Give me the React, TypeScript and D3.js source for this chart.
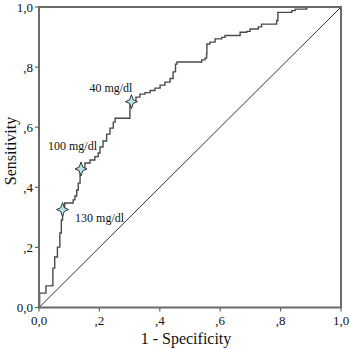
import React from "react";
import * as d3 from "d3";

// ROC curve (1 - specificity, sensitivity)
const fpr = [0, 0.002, 0.02, 0.023, 0.043, 0.046, 0.052, 0.061, 0.069, 0.074, 0.078, 0.085, 0.096, 0.113, 0.119, 0.125, 0.13, 0.136, 0.139,
  0.152, 0.169, 0.185, 0.196, 0.202, 0.212, 0.224, 0.235, 0.246, 0.252, 0.3, 0.301, 0.306,
  0.321, 0.334, 0.351, 0.368, 0.384, 0.401, 0.417, 0.434, 0.444, 0.452, 0.457, 0.533, 0.539, 0.55, 0.555, 0.556, 0.566, 0.583, 0.605, 0.616, 0.655, 0.666, 0.688, 0.699, 0.726, 0.737, 0.787, 0.791, 0.837, 0.848, 0.886, 0.887, 1];
const tpr = [0, 0.048, 0.048, 0.072, 0.073, 0.131, 0.168, 0.201, 0.248, 0.291, 0.326, 0.348, 0.348, 0.358, 0.371, 0.391, 0.414, 0.448, 0.461,
  0.481, 0.491, 0.502, 0.514, 0.534, 0.554, 0.577, 0.597, 0.617, 0.63, 0.63, 0.674, 0.685,
  0.7, 0.71, 0.715, 0.722, 0.73, 0.74, 0.75, 0.762, 0.784, 0.81, 0.817, 0.817, 0.824, 0.83, 0.844, 0.877, 0.883, 0.894, 0.899, 0.905, 0.905, 0.916, 0.919, 0.927, 0.934, 0.943, 0.955, 0.982, 0.988, 0.993, 0.996, 1, 1];

const cutLabels = ["40 mg/dl", "100 mg/dl", "130 mg/dl"];
const cutX = [0.306, 0.139, 0.078];
const cutY = [0.685, 0.461, 0.326];

const tickValues = [0, 0.2, 0.4, 0.6, 0.8, 1.0];
const tickLabels = ["0,0", ",2", ",4", ",6", ",8", "1,0"];

const W = 350, H = 349;
const L = 39, R = 341, T = 7, B = 307.5;
const FONT = "'Liberation Serif', 'Times New Roman', serif";

function starPath(cx: number, cy: number, rx: number, ry: number, ri: number) {
  const pts: [number, number][] = [
    [cx, cy - ry], [cx + ri, cy - ri], [cx + rx, cy], [cx + ri, cy + ri],
    [cx, cy + ry], [cx - ri, cy + ri], [cx - rx, cy], [cx - ri, cy - ri],
  ];
  return "M" + pts.map((p) => p.join(",")).join("L") + "Z";
}

export default function App() {
  const x = d3.scaleLinear().domain([0, 1]).range([L, R]);
  const y = d3.scaleLinear().domain([0, 1]).range([B, T]);
  const pts: [number, number][] = fpr.map((v, i) => [v, tpr[i]]);
  const line = d3.line<[number, number]>().x((d) => x(d[0])).y((d) => y(d[1])).curve(d3.curveStepAfter);
  const labelPos = [
    { dx: -42, dy: -10 },
    { dx: -33, dy: -19 },
    { dx: 12.5, dy: 12.5 },
  ];
  return (
    <svg width={W} height={H} style={{ position: "absolute", left: 0, top: 0, background: "#fff" }} fontFamily={FONT}>
      <rect x={0} y={0} width={W} height={H} fill="#fff" />
      {/* diagonal */}
      <line x1={x(0)} y1={y(0)} x2={x(1)} y2={y(1)} stroke="#333" strokeWidth={1} />
      {/* ROC curve */}
      <path d={line(pts) || ""} fill="none" stroke="#4a4a4a" strokeWidth={1.4} />
      {/* frame */}
      <rect x={L} y={T} width={R - L} height={B - T} fill="none" stroke="#6a6a6a" strokeWidth={2} />
      {/* y ticks */}
      {tickValues.map((v, i) => (
        <g key={"y" + i}>
          <line x1={L - 4} x2={L} y1={y(v)} y2={y(v)} stroke="#666" strokeWidth={1.2} />
          <text x={33} y={y(v) + 4.5} textAnchor="end" fontSize={13} fill="#111">{tickLabels[i]}</text>
        </g>
      ))}
      {/* x ticks */}
      {tickValues.map((v, i) => (
        <g key={"x" + i}>
          <line x1={x(v)} x2={x(v)} y1={B} y2={B + 4} stroke="#666" strokeWidth={1.2} />
          <text x={x(v)} y={325} textAnchor="middle" fontSize={13} fill="#111">{tickLabels[i]}</text>
        </g>
      ))}
      {/* axis titles */}
      <text x={186} y={344} textAnchor="middle" fontSize={16} fill="#111">1 - Specificity</text>
      <text transform="translate(16,151) rotate(-90)" textAnchor="middle" fontSize={16} fill="#111">Sensitivity</text>
      {/* cutoff markers */}
      {cutLabels.map((lab, i) => (
        <g key={lab}>
          <path d={starPath(x(cutX[i]), y(cutY[i]), 6, 7, 1.8)} fill="#b6e3ea" stroke="#333" strokeWidth={1} />
          <text x={x(cutX[i]) + labelPos[i].dx} y={y(cutY[i]) + labelPos[i].dy} fontSize={12} fill="#111">{lab}</text>
        </g>
      ))}
    </svg>
  );
}
